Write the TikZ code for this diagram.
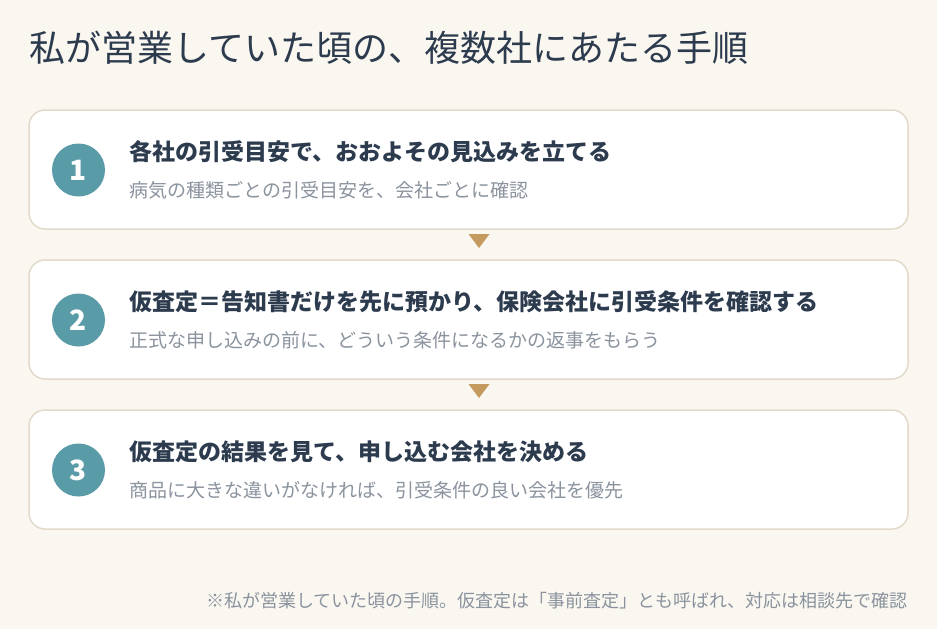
\documentclass[tikz,border=0pt]{standalone}
\usepackage{fontspec}
\setmainfont{Noto Sans CJK JP}
\usetikzlibrary{calc}

\definecolor{paper}{HTML}{FAF7F0}
\definecolor{rim}{HTML}{E2DACB}
\definecolor{ink}{HTML}{2D3B4E}
\definecolor{mute}{HTML}{8A939E}
\definecolor{teal}{HTML}{5A9BA8}
\definecolor{ochre}{HTML}{C49A5E}

\tikzset{
  card/.style={draw=rim, line width=1.5pt, fill=white, rounded corners=16pt,
    minimum width=879pt, minimum height=119pt},
  badge/.style={circle, fill=teal, minimum size=53pt, inner sep=0pt,
    text=white, font=\fontsize{28}{30}\selectfont\bfseries},
  head/.style={anchor=west, inner sep=0pt, text=ink,
    font=\fontsize{23}{27}\selectfont\bfseries},
  sub/.style={anchor=west, inner sep=0pt, text=mute,
    font=\fontsize{19}{22}\selectfont},
  tip/.style={fill=ochre}
}

\begin{document}
\begin{tikzpicture}[x=1pt,y=-1pt]
\fill[paper] (0,0) rectangle (937,629);
\useasboundingbox (0,0) rectangle (937,629);

%% Titre
\node[anchor=west, inner sep=0pt, text=ink, font=\fontsize{36}{40}\selectfont]
  (title) at (29,48) {私が営業していた頃の、複数社にあたる手順};

%% Cartes
\foreach \i/\head/\sub in {
  1/{各社の引受目安で、おおよその見込みを立てる}/{病気の種類ごとの引受目安を、会社ごとに確認},
  2/{仮査定＝告知書だけを先に預かり、保険会社に引受条件を確認する}/{正式な申し込みの前に、どういう条件になるかの返事をもらう},
  3/{仮査定の結果を見て、申し込む会社を決める}/{商品に大きな違いがなければ、引受条件の良い会社を優先}}{
	\pgfmathsetmacro\top{110+150*(\i-1)}
	\node[card] (card\i) at (468.5,\top+59.5) {};
	\node[badge] (badge\i) at (78.5,\top+60) {\i};
	\node[head] (head\i) at (129,\top+42) {\head};
	\node[sub] (sub\i) at (129,\top+80) {\sub};
}

%% Triangles
\foreach \i/\j in {1/2,2/3}{
	\coordinate (m\i) at ($(card\i.south)!0.5!(card\j.north)+(10.5,0)$);
	\fill[tip] ($(m\i)+(-10.5,-10.5)$) -- ($(m\i)+(10.5,-10.5)$) -- ($(m\i)+(0,3.5)$) -- cycle;
}

%% Note
\node[anchor=east, inner sep=0pt, text=mute, font=\fontsize{18}{21}\selectfont]
  (note) at (908,601) {※私が営業していた頃の手順。仮査定は「事前査定」とも呼ばれ、対応は相談先で確認};

\end{tikzpicture}
\end{document}
